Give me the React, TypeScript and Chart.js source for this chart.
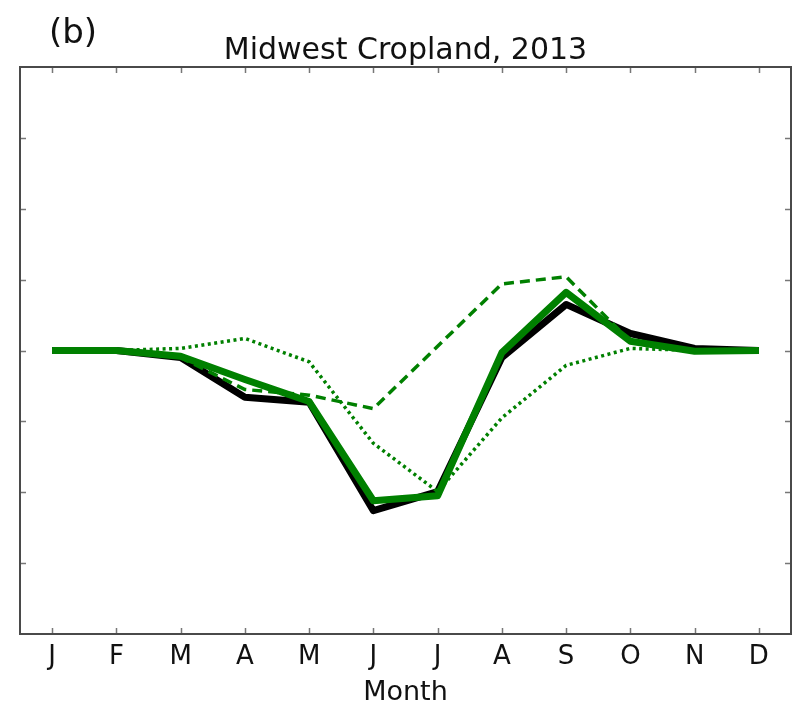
import React, { useEffect, useRef } from "react";
import { Chart, registerables } from "chart.js";

Chart.register(...registerables);

// Month initials along the x axis
const months = ["J", "F", "M", "A", "M", "J", "J", "A", "S", "O", "N", "D"];

// Monthly anomalies (arbitrary units)
const observed = [0, 0, -0.1, -0.66, -0.73, -2.26, -1.99, -0.1, 0.65, 0.24, 0.03, 0];
const modelTotal = [0, 0, -0.08, -0.41, -0.72, -2.12, -2.05, -0.03, 0.82, 0.13, -0.01, 0];
const modelDashed = [0, 0, -0.1, -0.55, -0.63, -0.82, 0.06, 0.94, 1.04, 0.13, -0.01, 0];
const modelDotted = [0, 0, 0.03, 0.17, -0.16, -1.31, -1.99, -0.95, -0.21, 0.03, 0, 0];

// Y tick positions (no labels shown)
const yTicks = [-3, -2, -1, 0, 1, 2, 3];

const titleText = "Midwest Cropland, 2013";
const panelLabel = "(b)";
const xAxisTitle = "Month";

const GREEN = "#008000";
const FONT = "'DejaVu Sans', sans-serif";

const framePlugin = {
  id: "frameAndText",
  afterDatasetsDraw(chart: any) {
    const { ctx, chartArea } = chart;
    const { left, right, top, bottom } = chartArea;
    const xs = chart.scales.x;
    const ys = chart.scales.y;
    ctx.save();
    // inward tick marks on all four sides
    ctx.strokeStyle = "#777";
    ctx.lineWidth = 1.5;
    const tl = 6;
    ctx.beginPath();
    months.forEach((_, i) => {
      const px = Math.round(xs.getPixelForValue(i)) + 0.5;
      ctx.moveTo(px, bottom);
      ctx.lineTo(px, bottom - tl);
      ctx.moveTo(px, top);
      ctx.lineTo(px, top + tl);
    });
    yTicks.forEach((v) => {
      const py = Math.round(ys.getPixelForValue(v)) + 0.5;
      ctx.moveTo(left, py);
      ctx.lineTo(left + tl, py);
      ctx.moveTo(right, py);
      ctx.lineTo(right - tl, py);
    });
    ctx.stroke();
    // axes frame
    ctx.strokeStyle = "#4a4a4a";
    ctx.lineWidth = 2;
    ctx.strokeRect(left, top, right - left, bottom - top);

    // text
    ctx.fillStyle = "#111";
    ctx.textBaseline = "alphabetic";
    ctx.textAlign = "center";
    ctx.font = `26px ${FONT}`;
    months.forEach((m, i) => {
      ctx.fillText(m, xs.getPixelForValue(i), 664);
    });
    ctx.font = `27px ${FONT}`;
    ctx.fillText(xAxisTitle, (left + right) / 2, 700);
    ctx.font = `30px ${FONT}`;
    ctx.fillText(titleText, (left + right) / 2, 59);
    ctx.textAlign = "left";
    ctx.font = `34px ${FONT}`;
    ctx.fillText(panelLabel, 49, 43);
    ctx.restore();
  },
};

export default function App() {
  const canvasRef = useRef<HTMLCanvasElement | null>(null);

  useEffect(() => {
    const canvas = canvasRef.current;
    if (!canvas) return;
    const chart = new Chart(canvas, {
      type: "line",
      data: {
        labels: months,
        datasets: [
          {
            label: "observed",
            data: observed,
            borderColor: "#000000",
            borderWidth: 7,
            order: 4,
            borderJoinStyle: "round",
          },
          {
            label: "dotted",
            data: modelDotted,
            borderColor: GREEN,
            borderWidth: 3.5,
            borderDash: [3, 3.5],
            borderCapStyle: "butt",
            order: 3,
          },
          {
            label: "dashed",
            data: modelDashed,
            borderColor: GREEN,
            borderWidth: 3.5,
            borderDash: [10, 6],
            borderCapStyle: "butt",
            order: 2,
          },
          {
            label: "total",
            data: modelTotal,
            borderColor: GREEN,
            borderWidth: 7,
            order: 1,
            borderJoinStyle: "round",
          },
        ],
      },
      options: {
        animation: false,
        responsive: false,
        maintainAspectRatio: false,
        devicePixelRatio: 1,
        layout: { padding: { left: 20, right: 2, top: 67, bottom: 69 } },
        elements: {
          point: { radius: 0, hoverRadius: 0 },
          line: { tension: 0, fill: false },
        },
        scales: {
          x: { type: "category", offset: true, display: false },
          y: { type: "linear", min: -4, max: 4, display: false },
        },
        plugins: {
          legend: { display: false },
          title: { display: false },
          tooltip: { enabled: false },
        },
      },
      plugins: [framePlugin],
    });
    return () => chart.destroy();
  }, []);

  return (
    <div style={{ position: "fixed", left: 0, top: 0, width: 793, height: 703, background: "#fff" }}>
      <canvas ref={canvasRef} width={793} height={703} style={{ display: "block" }} />
    </div>
  );
}
